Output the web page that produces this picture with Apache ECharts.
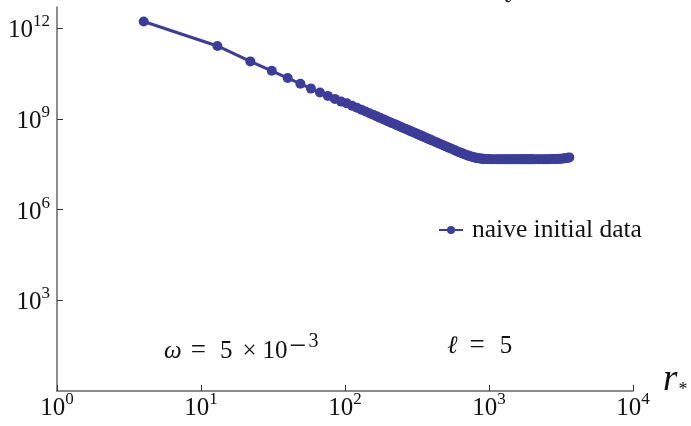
<!DOCTYPE html>
<html>
<head>
<meta charset="utf-8">
<script src="https://cdn.jsdelivr.net/npm/echarts@6/dist/echarts.min.js"></script>
<style>
  html, body { margin: 0; padding: 0; background: #fff; }
  #chart { width: 691px; height: 426px; }
</style>
</head>
<body>
<div id="chart"></div>
<script>
// Tortoise radius r_* and the field amplitude of the naive initial data
const radii = [
  4, 13, 22, 31, 40, 49, 58, 67, 76, 85, 94,
  103, 112, 121, 130, 139, 148, 157, 166, 175, 184, 193, 202,
  211, 220, 229, 238, 247, 256, 265, 274, 283, 292, 301, 310, 319, 328,
  337, 346, 355, 364, 373, 382, 391, 400,
  418, 436, 454, 472, 490, 508, 526, 544, 562, 580, 598, 616, 634, 652,
  670, 688, 706, 724, 742, 760, 778, 796, 814, 832, 850, 868, 886, 904,
  922, 940, 958, 976, 994,
  1030, 1075, 1120, 1165, 1210, 1255, 1300, 1345, 1390, 1435, 1480, 1525,
  1570, 1615, 1660, 1705, 1750, 1795, 1840, 1885, 1930, 1975, 2020,
  2110, 2200, 2290, 2380, 2470, 2560, 2650, 2740, 2830, 2920, 3010,
  3100, 3190, 3280, 3370, 3460, 3550, 3613
];
const fieldValues = [
  1.66e12, 2.57e11, 7.94e10, 3.89e10, 2.24e10, 1.45e10, 1.0e10, 7.4e9, 5.75e9, 4.57e9, 3.72e9,
  3.25e9, 2.73e9, 2.33e9, 2.00e9, 1.75e9, 1.53e9, 1.36e9, 1.21e9, 1.08e9, 9.77e8, 8.85e8, 8.05e8,
  7.36e8, 6.75e8, 6.21e8, 5.73e8, 5.31e8, 4.93e8, 4.59e8, 4.28e8, 4.01e8, 3.76e8, 3.53e8, 3.32e8, 3.13e8, 2.95e8,
  2.79e8, 2.64e8, 2.51e8, 2.38e8, 2.26e8, 2.15e8, 2.05e8, 1.96e8,
  1.79e8, 1.64e8, 1.51e8, 1.39e8, 1.29e8, 1.19e8, 1.11e8, 1.04e8, 9.70e7, 9.10e7, 8.56e7, 8.07e7, 7.62e7, 7.22e7,
  6.85e7, 6.53e7, 6.24e7, 5.98e7, 5.76e7, 5.56e7, 5.40e7, 5.25e7, 5.13e7, 5.03e7, 4.95e7, 4.88e7, 4.83e7, 4.78e7,
  4.75e7, 4.72e7, 4.70e7, 4.68e7, 4.67e7,
  4.65e7, 4.64e7, 4.63e7, 4.62e7, 4.62e7, 4.61e7, 4.61e7, 4.61e7, 4.60e7, 4.60e7, 4.60e7, 4.60e7,
  4.60e7, 4.60e7, 4.60e7, 4.61e7, 4.61e7, 4.61e7, 4.61e7, 4.61e7, 4.62e7, 4.62e7, 4.62e7,
  4.62e7, 4.62e7, 4.62e7, 4.62e7, 4.63e7, 4.63e7, 4.64e7, 4.66e7, 4.68e7, 4.70e7, 4.73e7,
  4.77e7, 4.82e7, 4.88e7, 4.96e7, 5.06e7, 5.20e7, 5.32e7
];
const xTicks = [1, 10, 100, 1000, 10000];
const yTicks = [1e3, 1e6, 1e9, 1e12];
const seriesName = 'naive initial data';

const SERIF = '"Liberation Serif", "Times New Roman", "DejaVu Serif", serif';
const INK = '#111';
const LINE_COLOR = '#3c3c9a';

const powerRich = {
  b: { fontFamily: SERIF, fontSize: 25, color: INK, lineHeight: 30, verticalAlign: 'bottom' },
  e: { fontFamily: SERIF, fontSize: 17, color: INK, verticalAlign: 'top' }
};
const powerLabel = v => '{b|10}{e|' + Math.round(Math.log10(v)) + '}';

const mathRich = {
  i: { fontFamily: SERIF, fontStyle: 'italic', fontSize: 25, fill: INK, lineHeight: 32, verticalAlign: 'bottom' },
  n: { fontFamily: SERIF, fontSize: 25, fill: INK, lineHeight: 32, verticalAlign: 'bottom' },
  eq: { fontFamily: SERIF, fontSize: 27, fill: INK, lineHeight: 32, verticalAlign: 'bottom', padding: [0, 14, 0, 9] },
  eq2: { fontFamily: SERIF, fontSize: 27, fill: INK, lineHeight: 32, verticalAlign: 'bottom', padding: [0, 15, 0, 12] },
  x: { fontFamily: SERIF, fontSize: 25, fill: INK, lineHeight: 32, verticalAlign: 'bottom', padding: [0, 6, 0, 10] },
  m: { fontFamily: SERIF, fontSize: 30, fill: INK, lineHeight: 22, verticalAlign: 'top', padding: [0, 2, 0, 2] },
  e: { fontFamily: SERIF, fontSize: 20, fill: INK, lineHeight: 22, verticalAlign: 'top' }
};

const chart = echarts.init(document.getElementById('chart'));
chart.setOption({
  backgroundColor: '#fff',
  animation: false,
  grid: { left: 57, right: 58, top: 7, bottom: 35, containLabel: false },
  legend: {
    data: [seriesName],
    left: 433,
    top: 212,
    itemWidth: 24,
    itemHeight: 10,
    textStyle: { fontFamily: SERIF, fontSize: 25.5, color: INK, padding: [0, 0, 0, 4] }
  },
  xAxis: {
    type: 'log',
    logBase: 10,
    min: 1,
    max: 1e4,
    name: '{r|r}{s|*}',
    nameLocation: 'end',
    nameGap: 30,
    nameTextStyle: {
      verticalAlign: 'middle',
      padding: [0, 0, 20, 0],
      rich: {
        r: { fontFamily: SERIF, fontStyle: 'italic', fontSize: 37, color: INK, lineHeight: 36, verticalAlign: 'bottom' },
        s: { fontFamily: SERIF, fontSize: 18, color: INK, lineHeight: 8, verticalAlign: 'bottom', padding: [0, 0, 0, 1] }
      }
    },
    axisLine: { lineStyle: { color: '#666', width: 1.5 } },
    axisTick: { inside: true, length: 6, customValues: xTicks, lineStyle: { color: '#333', width: 1 } },
    axisLabel: { customValues: xTicks, margin: 0, formatter: powerLabel, rich: powerRich },
    splitLine: { show: false },
    minorTick: { show: false }
  },
  yAxis: {
    type: 'log',
    logBase: 10,
    min: 1,
    max: 5e12,
    axisLine: { lineStyle: { color: '#666', width: 1.5 } },
    axisTick: { inside: true, length: 6, customValues: yTicks, lineStyle: { color: '#333', width: 1 } },
    axisLabel: { customValues: yTicks, margin: 7, formatter: powerLabel, rich: powerRich },
    splitLine: { show: false }
  },
  graphic: [
    {
      type: 'text',
      left: 164,
      top: 332,
      style: { text: '{i|ω}{eq|=}{n|5}{x|×}{n|10}{m|−}{e|3}', rich: mathRich }
    },
    {
      type: 'text',
      left: 447,
      top: 332,
      style: { text: '{i|ℓ}{eq2|=}{n|5}', rich: mathRich }
    },
    {
      type: 'text',
      left: 503,
      top: -16,
      style: { text: 'ℓ', font: 'italic 24px ' + SERIF, fill: INK }
    }
  ],
  series: [{
    name: seriesName,
    type: 'line',
    data: radii.map((r, i) => [r, fieldValues[i]]),
    symbol: 'circle',
    symbolSize: 10,
    showSymbol: true,
    showAllSymbol: true,
    color: LINE_COLOR,
    lineStyle: { color: LINE_COLOR, width: 3 },
    itemStyle: { color: LINE_COLOR },
    emphasis: { disabled: true }
  }]
});
</script>
</body>
</html>
